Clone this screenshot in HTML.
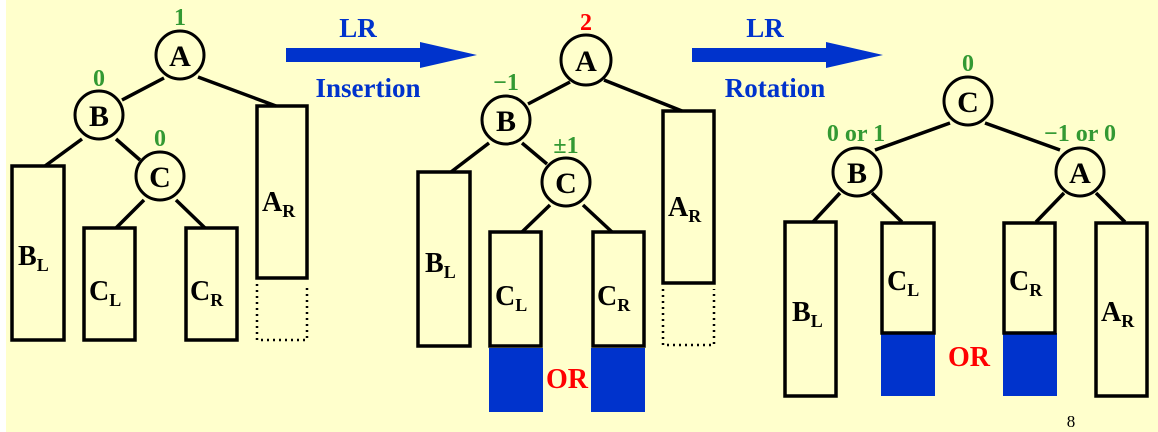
<!DOCTYPE html>
<html><head><meta charset="utf-8"><style>
html,body{margin:0;padding:0;background:#fff;}
svg{display:block;}
text{font-family:"Liberation Serif",serif;font-weight:bold;}
</style></head><body>
<svg width="1158" height="432" viewBox="0 0 1158 432" xmlns="http://www.w3.org/2000/svg">
<rect x="6" y="0" width="1152" height="432" fill="#ffffcc"/>
<g stroke="#000" stroke-width="3.5" fill="none">
<!-- tree1 lines -->
<line x1="164" y1="78" x2="122" y2="100"/><line x1="198" y1="77" x2="276" y2="106"/>
<line x1="82" y1="139" x2="45" y2="166"/><line x1="116" y1="139" x2="140" y2="160"/>
<line x1="144" y1="200" x2="116" y2="228"/><line x1="176" y1="200" x2="205" y2="228"/>
<!-- tree2 lines -->
<line x1="570" y1="82" x2="528" y2="104"/><line x1="604" y1="80" x2="682" y2="111"/>
<line x1="489" y1="143" x2="451" y2="172"/><line x1="522" y1="143" x2="547" y2="164"/>
<line x1="550" y1="205" x2="522" y2="232"/><line x1="583" y1="205" x2="612" y2="232"/>
<!-- tree3 lines -->
<line x1="950" y1="123" x2="875" y2="150"/><line x1="985" y1="123" x2="1060" y2="150"/>
<line x1="840" y1="193" x2="813" y2="222"/><line x1="872" y1="193" x2="902" y2="222"/>
<line x1="1064" y1="193" x2="1036" y2="222"/><line x1="1096" y1="193" x2="1125" y2="222"/>
</g>
<!-- blue fills -->
<g fill="#0033cc">
<rect x="489" y="348" width="54" height="64"/><rect x="591" y="348" width="54" height="64"/>
<rect x="881" y="333" width="54" height="63"/><rect x="1003" y="333" width="54" height="63"/>
<rect x="286" y="48" width="140" height="14"/><polygon points="420,42 477,55 420,68"/>
<rect x="692" y="48" width="140" height="14"/><polygon points="826,42 883,55 826,68"/>
</g>
<g stroke="#000" stroke-width="3.5" fill="none">
<rect x="12" y="166" width="52" height="174"/><rect x="84" y="228" width="51" height="112"/>
<rect x="186" y="228" width="51" height="112"/><rect x="257" y="106" width="50" height="172"/>
<rect x="418" y="172" width="52" height="174"/><rect x="490" y="232" width="51" height="114"/>
<rect x="593" y="232" width="51" height="114"/><rect x="663" y="111" width="51" height="172"/>
<rect x="785" y="222" width="51" height="174"/><rect x="882" y="223" width="52" height="110"/>
<rect x="1004" y="223" width="51" height="110"/><rect x="1096" y="223" width="51" height="173"/>
</g>
<g stroke="#000" stroke-width="2.5" fill="none" stroke-dasharray="2,4">
<path d="M257 284 V340 H307 V284"/><path d="M663 289 V345 H714 V289"/>
</g>
<g stroke="#000" stroke-width="3" fill="#ffffcc">
<circle cx="180" cy="55" r="24"/><circle cx="99" cy="115" r="24"/><circle cx="160" cy="176" r="24"/>
<circle cx="586" cy="60" r="25"/><circle cx="506" cy="120" r="24"/><circle cx="566" cy="182" r="24"/>
<circle cx="968" cy="101" r="24"/><circle cx="857" cy="172" r="24"/><circle cx="1080" cy="172" r="24"/>
</g>
<g font-size="30" text-anchor="middle" fill="#000">
<text x="180" y="66">A</text><text x="99" y="126">B</text><text x="160" y="187">C</text>
<text x="586" y="71">A</text><text x="506" y="131">B</text><text x="566" y="193">C</text>
<text x="968" y="112">C</text><text x="857" y="183">B</text><text x="1080" y="183">A</text>
</g>
<g font-size="28" fill="#000">
<text x="18" y="265">B<tspan font-size="18" dy="6">L</tspan></text>
<text x="89" y="300">C<tspan font-size="18" dy="6">L</tspan></text>
<text x="190" y="300">C<tspan font-size="18" dy="6">R</tspan></text>
<text x="262" y="211">A<tspan font-size="18" dy="6">R</tspan></text>
<text x="425" y="272">B<tspan font-size="18" dy="6">L</tspan></text>
<text x="495" y="305">C<tspan font-size="18" dy="6">L</tspan></text>
<text x="597" y="305">C<tspan font-size="18" dy="6">R</tspan></text>
<text x="668" y="216">A<tspan font-size="18" dy="6">R</tspan></text>
<text x="792" y="321">B<tspan font-size="18" dy="6">L</tspan></text>
<text x="887" y="290">C<tspan font-size="18" dy="6">L</tspan></text>
<text x="1009" y="290">C<tspan font-size="18" dy="6">R</tspan></text>
<text x="1101" y="321">A<tspan font-size="18" dy="6">R</tspan></text>
</g>
<g font-size="24" text-anchor="middle" fill="#339933">
<text x="180" y="25">1</text><text x="99" y="86">0</text><text x="160" y="146">0</text>
<text x="506" y="90">−1</text><text x="566" y="153">±1</text>
<text x="968" y="71">0</text><text x="856" y="141">0 or 1</text><text x="1080" y="141">−1 or 0</text>
</g>
<text x="586" y="30" font-size="24" text-anchor="middle" fill="#ff0000">2</text>
<g font-size="28" text-anchor="middle" fill="#ff0000">
<text x="567" y="388">OR</text><text x="969" y="366">OR</text>
</g>
<g font-size="27" text-anchor="middle" fill="#0033cc">
<text x="358" y="37">LR</text><text x="368" y="97">Insertion</text>
<text x="765" y="37">LR</text><text x="775" y="97">Rotation</text>
</g>
<text x="1071" y="427" font-size="17" font-weight="normal" text-anchor="middle" fill="#000" style="font-weight:normal">8</text>
</svg>
</body></html>
